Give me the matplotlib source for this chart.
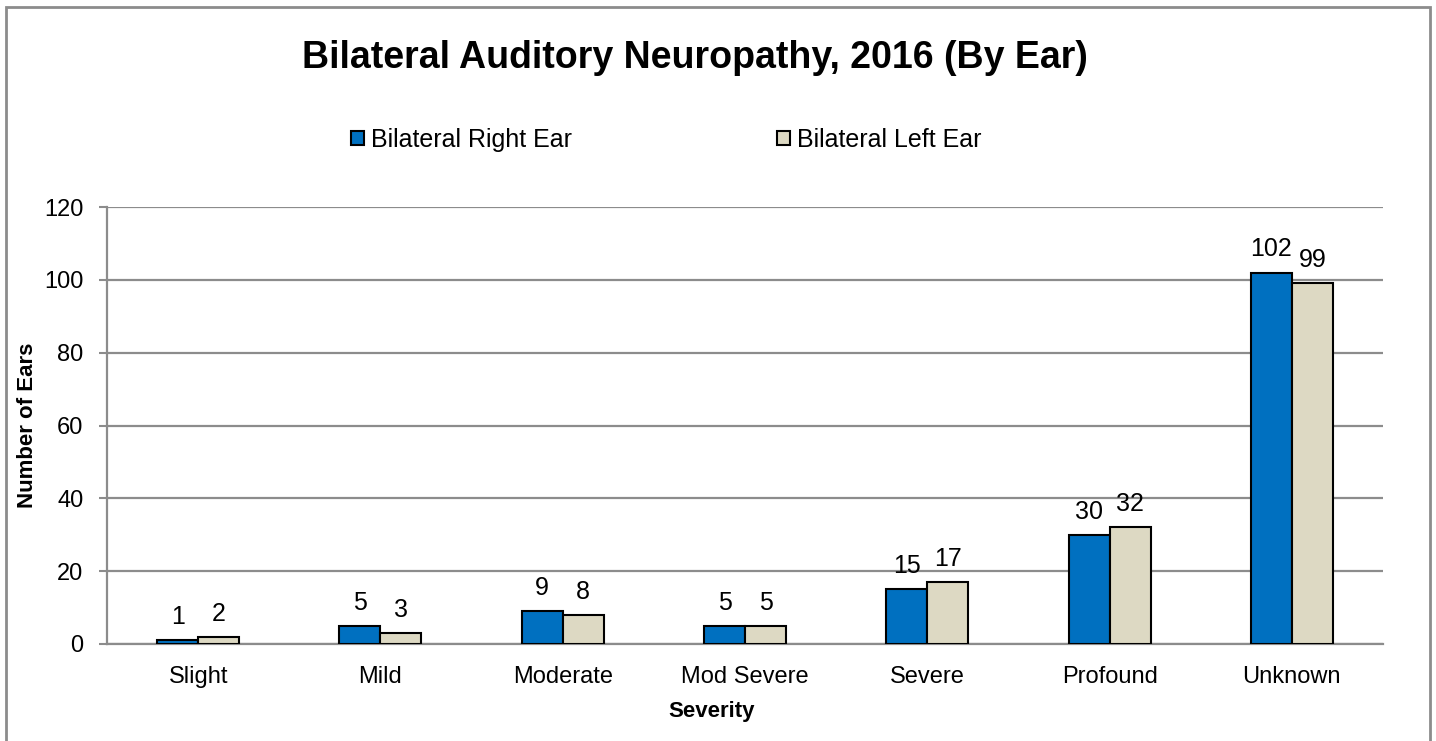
import numpy as np
import matplotlib
matplotlib.use('Agg')
import matplotlib.pyplot as plt
from matplotlib.patches import Rectangle

plt.rcParams['font.family'] = ['Liberation Sans', 'DejaVu Sans']

categories = ['Slight', 'Mild', 'Moderate', 'Mod Severe', 'Severe', 'Profound', 'Unknown']
right_ear = [1, 5, 9, 5, 15, 30, 102]
left_ear = [2, 3, 8, 5, 17, 32, 99]
series_names = ['Bilateral Right Ear', 'Bilateral Left Ear']
yticks = [0, 20, 40, 60, 80, 100, 120]

blue = '#0070C0'
beige = '#DDD9C3'
grid_col = '#8C8C8C'

W, H = 1436, 741
fig = plt.figure(figsize=(W / 100, H / 100), dpi=100)
ax = fig.add_axes([107 / W, 1 - 644 / H, (1383 - 107) / W, (644 - 207) / H])

x = np.arange(len(categories))
w = 0.225
b1 = ax.bar(x - w / 2, right_ear, w, color=blue, edgecolor='black', linewidth=1.5,
            label=series_names[0], zorder=3)
b2 = ax.bar(x + w / 2, left_ear, w, color=beige, edgecolor='black', linewidth=1.5,
            label=series_names[1], zorder=3)

# value labels above each bar
for bars, vals in [(b1, right_ear), (b2, left_ear)]:
    for r, v in zip(bars, vals):
        ax.annotate(str(v), (r.get_x() + r.get_width() / 2, v), xytext=(0, 8),
                    textcoords='offset points', ha='center', va='bottom', fontsize=18)

ax.set_xlim(-0.5, len(categories) - 0.5)
ax.set_ylim(0, 120)
ax.set_yticks(yticks)
ax.set_xticks(x)
ax.set_xticklabels(categories, fontsize=17)
ax.tick_params(axis='y', labelsize=17, length=6, width=1.5, color=grid_col, pad=11)
ax.tick_params(axis='x', length=0, pad=16)
ax.yaxis.grid(True, color=grid_col, linewidth=1.6, zorder=0)
ax.set_axisbelow(True)
for s in ['top', 'right']:
    ax.spines[s].set_visible(False)
ax.spines['left'].set_color(grid_col)
ax.spines['left'].set_linewidth(1.6)
ax.spines['bottom'].set_color(grid_col)
ax.spines['bottom'].set_linewidth(1.6)

ax.set_ylabel('Number of Ears', fontsize=16, fontweight='bold', labelpad=4)
ax.set_xlabel('Severity', fontsize=16, fontweight='bold', labelpad=9, x=0.474)

fig.text(0.484, 1 - 58 / H, 'Bilateral Auditory Neuropathy, 2016 (By Ear)',
         ha='center', va='center', fontsize=27, fontweight='bold')

fig.legend(handles=[b1, b2], labels=series_names, loc='center',
           bbox_to_anchor=(0.464, 1 - 140 / H), ncol=2, frameon=False, fontsize=18,
           handlelength=0.5, handleheight=0.5, handletextpad=0.3, columnspacing=8.2)

# chart frame (bottom edge falls outside the image)
fig.patches.append(Rectangle((6 / W, -0.05), (1430 - 6) / W, 1.05 - 7 / H,
                             transform=fig.transFigure, fill=False,
                             edgecolor='#8C8C8C', linewidth=2))

fig.savefig('out.png', dpi=100)
